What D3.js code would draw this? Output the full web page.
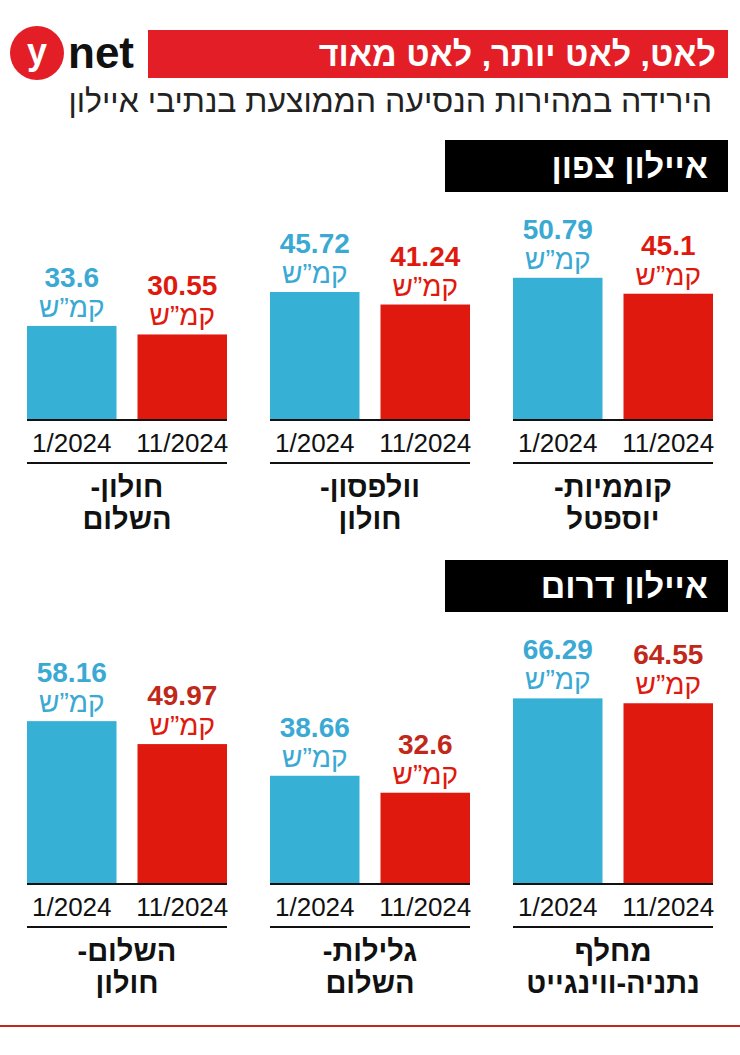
<!DOCTYPE html>
<html><head><meta charset="utf-8">
<script src="https://cdn.jsdelivr.net/npm/d3@7"></script>
<style>body{margin:0;background:#fff}svg{display:block}text{font-family:"Liberation Sans Narrow","Liberation Sans",sans-serif}</style>
</head><body><div id="chart"></div>
<script>
// data, right-to-left order as in the picture
const periods = ["1/2024", "11/2024"];
const northRoutes = [["קוממיות-", "יוספטל"], ["וולפסון-", "חולון"], ["חולון-", "השלום"]];
const northJan = [50.79, 45.72, 33.6];
const northNov = [45.1, 41.24, 30.55];
const southRoutes = [["מחלף", "נתניה-ווינגייט"], ["גלילות-", "השלום"], ["השלום-", "חולון"]];
const southJan = [66.29, 38.66, 58.16];
const southNov = [64.55, 32.6, 49.97];

const blue = "#37b0d6", red = "#e0190f";
const svg = d3.select("#chart").append("svg").attr("width", 740).attr("height", 1055);

// header
svg.append("rect").attr("x", 148).attr("y", 30).attr("width", 580).attr("height", 48).attr("fill", "#e41e26");
svg.append("text").attr("x", 716).attr("y", 66).attr("text-anchor", "end").attr("fill", "#fff")
  .attr("font-size", 34).attr("font-weight", "bold").text("לאט, לאט יותר, לאט מאוד");
svg.append("circle").attr("cx", 37).attr("cy", 53).attr("r", 27).attr("fill", "#e41e26");
svg.append("text").attr("x", 37).attr("y", 64).attr("text-anchor", "middle").attr("fill", "#fff")
  .attr("font-size", 36).attr("font-weight", "bold").text("y");
svg.append("text").attr("x", 68).attr("y", 68).attr("fill", "#111")
  .attr("font-size", 44).attr("font-weight", "bold").text("net");
svg.append("text").attr("x", 712).attr("y", 112).attr("text-anchor", "end").attr("fill", "#222")
  .attr("font-size", 32).text("הירידה במהירות הנסיעה הממוצעת בנתיבי איילון");

const y = d3.scaleLinear().domain([0, 70]).range([0, 196]);
const groupX = [513, 270, 27];
const x = d3.scaleBand().domain(periods).range([0, 200]).paddingInner(0.19);

function panel(title, boxY, base, routes, jan, nov, bottom) {
  svg.append("rect").attr("x", 445).attr("y", boxY).attr("width", 283).attr("height", 52).attr("fill", "#000");
  svg.append("text").attr("x", 708).attr("y", boxY + 38).attr("text-anchor", "end").attr("fill", "#fff")
    .attr("font-size", 34).attr("font-weight", "bold").text(title);
  routes.forEach((r, i) => {
    const g = svg.append("g").attr("transform", `translate(${groupX[i]},0)`);
    const vals = [jan[i], nov[i]];
    periods.forEach((p, j) => {
      const v = vals[j], top = base - y(v), c = j ? red : blue;
      const cx = x(p) + x.bandwidth() / 2;
      g.append("rect").attr("x", x(p)).attr("y", top).attr("width", x.bandwidth()).attr("height", y(v)).attr("fill", c);
      g.append("text").attr("x", cx).attr("y", top - 39).attr("text-anchor", "middle")
        .attr("fill", j ? (bottom ? "#c0281a" : "#e0190f") : "#3aa9d3").attr("font-size", 28).attr("font-weight", "bold")
        .attr("font-family", "Liberation Sans").text(v);
      g.append("text").attr("x", cx).attr("y", top - 9).attr("text-anchor", "middle")
        .attr("fill", j ? "#e0190f" : "#3aa9d3").attr("font-size", 28).text("קמ\u201dש");
      g.append("text").attr("x", cx).attr("y", base + 32).attr("text-anchor", "middle")
        .attr("fill", "#111").attr("font-size", 26).attr("font-family", "Liberation Sans").text(p);
    });
    g.append("line").attr("x1", 0).attr("x2", 200).attr("y1", base).attr("y2", base).attr("stroke", "#111").attr("stroke-width", 2);
    g.append("line").attr("x1", 0).attr("x2", 200).attr("y1", base + 43).attr("y2", base + 43).attr("stroke", "#111").attr("stroke-width", 2);
    r.forEach((t, k) => g.append("text").attr("x", 100).attr("y", base + 77 + k * 32).attr("text-anchor", "middle")
      .attr("direction", "rtl").attr("fill", "#111").attr("font-size", 29).attr("font-weight", "bold").text(t));
  });
}
panel("איילון צפון", 140, 420, northRoutes, northJan, northNov, false);
panel("איילון דרום", 560, 884, southRoutes, southJan, southNov, true);
svg.append("line").attr("x1", 0).attr("x2", 740).attr("y1", 1026).attr("y2", 1026).attr("stroke", "#c0281a").attr("stroke-width", 2);
</script></body></html>
